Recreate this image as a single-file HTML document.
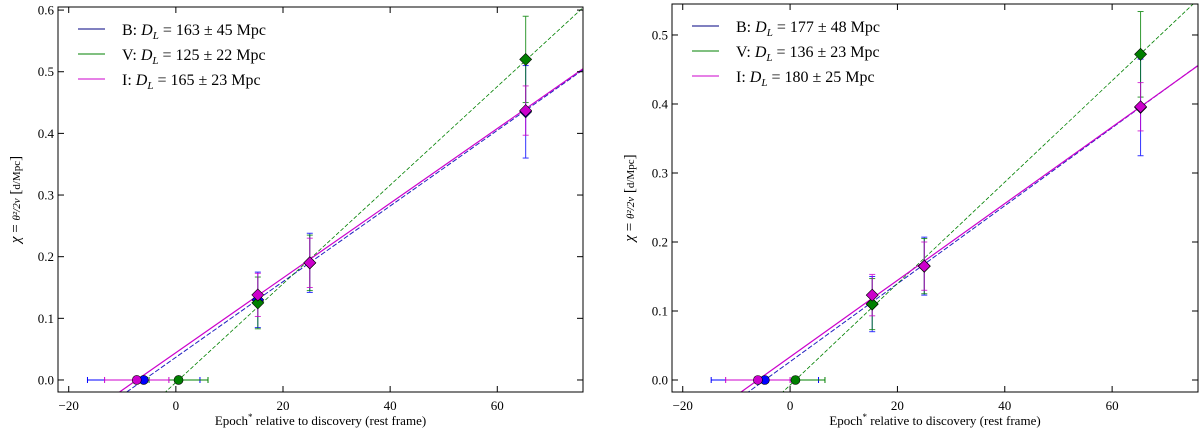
<!DOCTYPE html>
<html><head><meta charset="utf-8"><style>
html,body{margin:0;padding:0;background:#fff;width:1200px;height:430px;overflow:hidden}
svg{display:block}
text{font-family:"Liberation Serif",serif;fill:#000}
</style></head><body>
<svg id="chart" width="1200" height="430" xmlns="http://www.w3.org/2000/svg"></svg>
<script>
const xTicks=[-20,0,20,40,60];
const yTicksL=[0.0,0.1,0.2,0.3,0.4,0.5,0.6];
const yTicksR=[0.0,0.1,0.2,0.3,0.4,0.5];
const bands=["B","V","I"];
const colors=["#0000ff","#008000","#cc00cc"];
const lineColors=["#2020c0","#008000","#cc00cc"];
const legendColors=["#000080","#008000","#cc00cc"];
const epochs=[15.3,25,65.3];
// left panel
const distL=[163,125,165];
const distErrL=[45,22,23];
const t0L=[-6,0.5,-7.3];
const t0ErrL=[10.5,5.5,6];
const chiBL=[0.13,0.19,0.435];
const chiVL=[0.125,0.19,0.52];
const chiIL=[0.138,0.19,0.437];
const errBL=[0.045,0.048,0.075];
const errVL=[0.042,0.045,0.07];
const errIL=[0.035,0.04,0.04];
// right panel
const distR=[177,136,180];
const distErrR=[48,23,25];
const t0R=[-4.7,1,-6];
const t0ErrR=[10,5.5,6];
const chiBR=[0.11,0.165,0.395];
const chiVR=[0.11,0.165,0.472];
const chiIR=[0.123,0.165,0.396];
const errBR=[0.04,0.042,0.07];
const errVR=[0.037,0.04,0.062];
const errIR=[0.03,0.035,0.035];

const svg=document.getElementById('chart');
const NS="http://www.w3.org/2000/svg";
function mk(tag,attrs,parent){const e=document.createElementNS(NS,tag);for(const k in attrs)e.setAttribute(k,attrs[k]);(parent||svg).appendChild(e);return e;}

function panel(cfg){
  const g=mk('g',{});
  
  
  const {x0,x1,y0,y1,xmin,xmax,ymin,ymax}=cfg;
  const sx=v=>x0+(v-xmin)/(xmax-xmin)*(x1-x0);
  const sy=v=>y1-(v-ymin)/(ymax-ymin)*(y1-y0);
  const clip='clip'+cfg.name;
  const cp=mk('clipPath',{id:clip},g);mk('rect',{x:x0,y:y0,width:x1-x0,height:y1-y0},cp);
  const plot=mk('g',{'clip-path':'url(#'+clip+')'},g);
  const dashes=['5,2','4,2','none'];
  const widths=[1,0.8,1.2];
  for(let i=0;i<3;i++){
    const s=1/cfg.dist[i];
    const l=mk('line',{x1:sx(xmin),y1:sy((xmin-cfg.t0[i])*s),x2:sx(xmax),y2:sy((xmax-cfg.t0[i])*s),stroke:lineColors[i],'stroke-width':widths[i],'stroke-dasharray':dashes[i]},plot);
    
    
  }
  const cap=3;
  for(let i=0;i<3;i++){
    const c=colors[i];
    const t=cfg.t0[i],te=cfg.t0Err[i];
    const eb=mk('g',{stroke:c,'stroke-width':1},plot);
    
    
    mk('line',{x1:sx(t-te),x2:sx(t+te),y1:sy(0),y2:sy(0)},eb);
    mk('line',{x1:sx(t-te),x2:sx(t-te),y1:sy(0)-cap,y2:sy(0)+cap},eb);
    mk('line',{x1:sx(t+te),x2:sx(t+te),y1:sy(0)-cap,y2:sy(0)+cap},eb);
    const ch=cfg.chi[i],er=cfg.err[i];
    for(let j=0;j<3;j++){
      const e=mk('g',{stroke:c,'stroke-width':1,opacity:0.8},plot);
      
      
      const x=sx(epochs[j]);
      mk('line',{x1:x,x2:x,y1:sy(ch[j]-er[j]),y2:sy(ch[j]+er[j])},e);
      mk('line',{x1:x-cap,x2:x+cap,y1:sy(ch[j]-er[j]),y2:sy(ch[j]-er[j])},e);
      mk('line',{x1:x-cap,x2:x+cap,y1:sy(ch[j]+er[j]),y2:sy(ch[j]+er[j])},e);
    }
  }
  for(let i=0;i<3;i++){
    const p=mk('circle',{cx:sx(cfg.t0[i]),cy:sy(0),r:4.5,fill:colors[i],stroke:'#000','stroke-width':0.6},plot);
    
    
  }
  for(let i=0;i<3;i++){
    for(let j=0;j<3;j++){
      const x=sx(epochs[j]),y=sy(cfg.chi[i][j]),r=6;
      const d=mk('polygon',{points:`${x},${y-r} ${x+r},${y} ${x},${y+r} ${x-r},${y}`,fill:colors[i],stroke:'#000','stroke-width':0.6},plot);
      
      
    }
  }
  const fr=mk('rect',{x:x0,y:y0,width:x1-x0,height:y1-y0,fill:'none',stroke:'#000','stroke-width':1},g);
  
  
  xTicks.forEach(v=>{
    const x=sx(v);
    mk('line',{x1:x,x2:x,y1:y1,y2:y1-6,stroke:'#000'},g);
    mk('line',{x1:x,x2:x,y1:y0,y2:y0+6,stroke:'#000'},g);
    const t=mk('text',{x:x,y:y1+18,'text-anchor':'middle','font-size':13},g);
    t.textContent=(v<0?'\u2212'+(-v):v);
    
    
  });
  cfg.yTicks.forEach(v=>{
    const y=sy(v);
    mk('line',{x1:x0,x2:x0+6,y1:y,y2:y,stroke:'#000'},g);
    mk('line',{x1:x1,x2:x1-6,y1:y,y2:y,stroke:'#000'},g);
    const t=mk('text',{x:x0-4,y:y+4.5,'text-anchor':'end','font-size':13},g);
    t.textContent=v.toFixed(1);
    
    
  });
  const xt=mk('text',{x:(x0+x1)/2,y:y1+33,'text-anchor':'middle','font-size':13},g);
  xt.innerHTML='Epoch<tspan font-size="9" dy="-5">*</tspan><tspan dy="5"> relative to discovery (rest frame)</tspan>';
  
  
  const yt=mk('text',{transform:`translate(${x0-38},${(y0+y1)/2}) rotate(-90)`,'text-anchor':'middle','font-size':15},g);
  yt.innerHTML='<tspan font-style="italic">χ</tspan> = <tspan font-size="11" font-style="italic">θ²/2v</tspan> [<tspan font-size="11">d/Mpc</tspan>]';
  
  
  for(let i=0;i<3;i++){
    const ly=y0+22+i*25;
    const le=mk('g',{},g);
    
    
    mk('line',{x1:x0+20,x2:x0+47,y1:ly,y2:ly,stroke:legendColors[i],'stroke-width':1},le);
    const t=mk('text',{x:x0+64,y:ly+6,'font-size':16},le);
    t.innerHTML=bands[i]+': <tspan font-style="italic">D</tspan><tspan font-style="italic" font-size="11" dy="4">L</tspan><tspan dy="-4"> = '+cfg.dist[i]+' ± '+cfg.distErr[i]+' Mpc</tspan>';
  }
}
panel({name:'left-panel',x0:58,x1:583,y0:7,y1:392,xmin:-22,xmax:76,ymin:-0.0195,ymax:0.605,yTicks:yTicksL,
  dist:distL,distErr:distErrL,t0:t0L,t0Err:t0ErrL,chi:[chiBL,chiVL,chiIL],err:[errBL,errVL,errIL]});
panel({name:'right-panel',x0:672,x1:1198,y0:4,y1:392,xmin:-22,xmax:76,ymin:-0.0174,ymax:0.5449,yTicks:yTicksR,
  dist:distR,distErr:distErrR,t0:t0R,t0Err:t0ErrR,chi:[chiBR,chiVR,chiIR],err:[errBR,errVR,errIR]});
</script>
</body></html>
